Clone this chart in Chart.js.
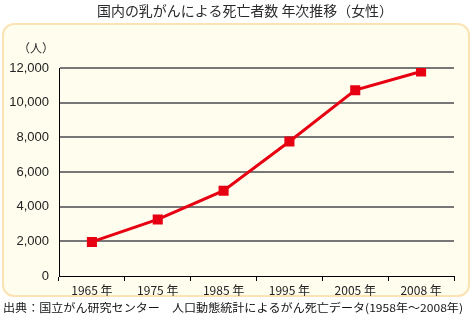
<!DOCTYPE html>
<html><head><meta charset="utf-8">
<script src="https://cdn.jsdelivr.net/npm/chart.js@4/dist/chart.umd.min.js"></script>
<style>html,body{margin:0;padding:0;background:#fff;}#wrap{width:472px;height:315px;position:relative;}</style>
</head><body><div id="wrap"><canvas id="c" width="472" height="315"></canvas></div>
<script>
const titleText = "国内の乳がんによる死亡者数 年次推移（女性）";
const sourceText = "出典：国立がん研究センター　人口動態統計によるがん死亡データ(1958年～2008年)";
const unitText = "（人）";
const categories = ["1965 年","1975 年","1985 年","1995 年","2005 年","2008 年"];
const deaths = [1966, 3262, 4922, 7763, 10721, 11797];
const yTicks = [0,2000,4000,6000,8000,10000,12000];

const JP = '"Noto Sans CJK JP", sans-serif';
const LAT = '"Liberation Sans", Arial, sans-serif';

const deco = {
  id:'deco',
  beforeDraw(chart){
    const ctx = chart.ctx;
    ctx.save();
    ctx.fillStyle = '#fff'; ctx.fillRect(0,0,472,315);
    const x=3,y=24,w=466,h=272,r=11;
    ctx.beginPath();
    ctx.roundRect(x,y,w,h,r);
    ctx.fillStyle='#fffdee'; ctx.fill();
    ctx.lineWidth=2; ctx.strokeStyle='#fce3b3'; ctx.stroke();
    ctx.fillStyle='#2a2a2a';
    ctx.font='14px '+JP; ctx.textAlign='center'; ctx.textBaseline='middle';
    const tw = ctx.measureText(titleText).width;
    ctx.save();
    ctx.translate(245,11);
    ctx.scale(296/tw,1);
    ctx.fillText(titleText,0,0);
    ctx.restore();
    ctx.font='12px '+JP; ctx.textAlign='left';
    ctx.fillText(unitText,18,48);
    ctx.fillStyle='#111';
    ctx.font='11px '+JP;
    const mw = ctx.measureText(sourceText).width;
    ctx.save();
    ctx.translate(3,308);
    ctx.scale(460/mw,1);
    ctx.fillText(sourceText,0,0);
    ctx.restore();
    ctx.restore();
  }
};

new Chart(document.getElementById('c'),{
  type:'line',
  data:{labels:categories,datasets:[{data:deaths,borderColor:'#e60012',backgroundColor:'#e60012',borderWidth:3,pointStyle:'rect',pointRadius:5,pointHoverRadius:5,tension:0}]},
  options:{
    responsive:false,animation:false,devicePixelRatio:1,
    layout:{padding:{top:68,left:0,right:18,bottom:19}},
    plugins:{legend:{display:false},tooltip:{enabled:false},title:{display:false}},
    scales:{
      x:{offset:true,
        grid:{display:true,offset:true,drawOnChartArea:false,drawTicks:true,tickLength:5,color:'#000',lineWidth:1},
        border:{display:true,color:'#000',width:1},
        ticks:{color:'#222',font:{family:JP,size:12},padding:2,maxRotation:0},
        afterFit(s){s.height=20;}
      },
      y:{min:0,max:12000,
        afterBuildTicks(s){s.ticks=yTicks.map(v=>({value:v}));},
        grid:{drawTicks:false,color:(c)=>c.tick.value===0?'rgba(0,0,0,0)':'#777',lineWidth:2,borderDash:[2,4]},
        border:{display:true,color:'#000',width:1,dash:[]},
        ticks:{color:'#222',font:{family:LAT,size:13},padding:10,callback:(v)=>v.toLocaleString('en-US')},
        afterFit(s){s.width=59;}
      }
    }
  },
  plugins:[deco]
});
</script></body></html>
